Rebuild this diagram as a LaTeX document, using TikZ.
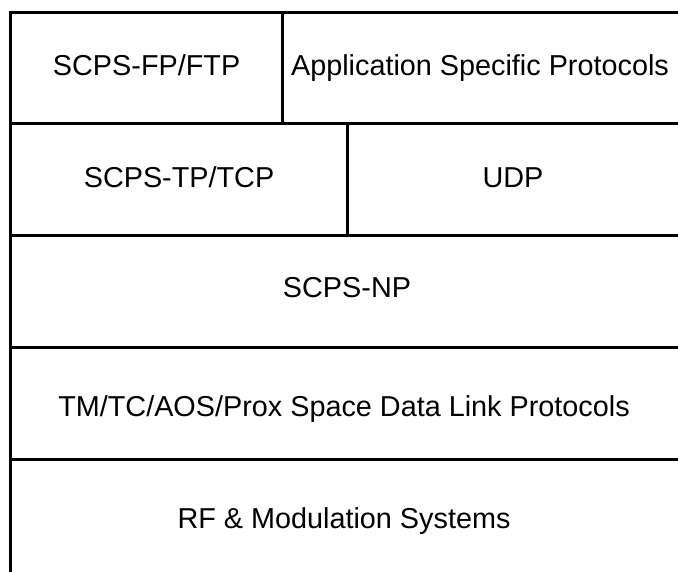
\documentclass[tikz,border=0pt]{standalone}
\usepackage{fontspec}
\setmainfont{Liberation Sans}
\begin{document}
\begin{tikzpicture}[x=1pt,y=1pt,
  grid/.style={line width=3pt,black},
  lbl/.style={anchor=base,inner sep=0pt,font=\fontsize{28.8}{34}\selectfont}]
\useasboundingbox (0,0) rectangle (678,572);
\clip (0,0) rectangle (678,572);
% frame coordinates
\coordinate (tl) at (10.5,559);
\coordinate (tr) at (690,559);
\coordinate (bl) at (10.5,-10);
% grid lines
\draw[grid] (bl) -- (tl) -- (tr);
\draw[grid] (10.5,448) -- (690,448);
\draw[grid] (10.5,336) -- (690,336);
\draw[grid] (10.5,224) -- (690,224);
\draw[grid] (10.5,112) -- (690,112);
\draw[grid] (282.7,559) -- (282.7,448);
\draw[grid] (347.7,448) -- (347.7,336);
% labels
\node[lbl] (fp)  at (146.6,496) {SCPS-FP/FTP};
\node[lbl] (app) at (480,496) {Application Specific Protocols};
\node[lbl] (tp)  at (179,384) {SCPS-TP/TCP};
\node[lbl] (udp) at (513,384) {UDP};
\node[lbl] (np)  at (347,274) {SCPS-NP};
\node[lbl] (dl)  at (344,155) {TM/TC/AOS/Prox Space Data Link Protocols};
\node[lbl] (rf)  at (344,43) {RF \& Modulation Systems};
\end{tikzpicture}
\end{document}
